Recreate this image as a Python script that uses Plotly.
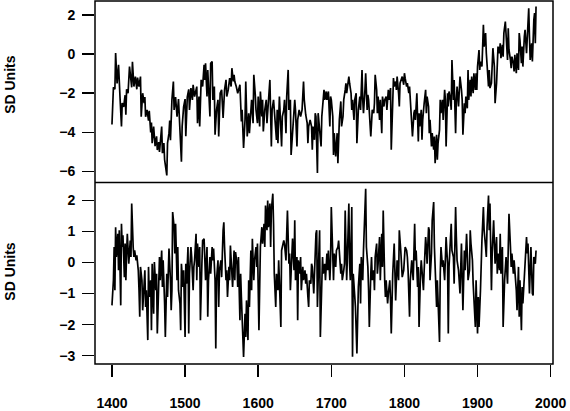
import plotly.graph_objects as go

years_top = [1400,1402,1404,1405,1407,1409,1411,1413,1414,1416,1418,1419,1420,1422,1424,1425,1427,1428,1429,1430,
1432,1434,1435,1437,1439,1440,1442,1444,1445,1446,1448,1450,1451,1453,1454,1455,1457,1459,1461,1462,
1464,1465,1468,1469,1471,1472,1475,1476,1478,1479,1480,1482,1484,1485,1487,1489,1491,1493,1495,1496,
1498,1500,1501,1503,1505,1506,1508,1510,1511,1513,1516,1517,1519,1520,1522,1524,1526,1527,1528,1530,
1531,1534,1535,1537,1538,1540,1541,1543,1545,1546,1548,1550,1552,1554,1556,1557,1559,1561,1563,1564,
1566,1567,1568,1570,1572,1575,1577,1578,1580,1582,1583,1585,1586,1587,1588,1590,1591,1593,1594,1596,
1597,1599,1600,1602,1603,1605,1606,1607,1609,1611,1612,1614,1616,1618,1619,1621,1623,1625,1626,1627,
1629,1631,1632,1633,1635,1636,1638,1639,1641,1642,1644,1645,1647,1648,1650,1651,1653,1654,1656,1658,
1659,1660,1662,1663,1665,1667,1668,1669,1671,1673,1674,1675,1677,1678,1679,1681,1682,1684,1686,1687,
1689,1690,1691,1693,1694,1696,1698,1699,1700,1702,1703,1704,1706,1708,1709,1710,1711,1713,1714,1716,
1717,1719,1720,1721,1723,1724,1725,1727,1728,1729,1731,1732,1734,1735,1737,1739,1740,1742,1743,1744,
1746,1747,1749,1750,1751,1753,1754,1756,1758,1759,1760,1762,1763,1764,1766,1767,1769,1770,1772,1773,
1775,1776,1778,1779,1781,1782,1784,1785,1786,1788,1789,1790,1792,1793,1794,1796,1797,1799,1800,1801,
1803,1804,1806,1807,1809,1810,1811,1813,1814,1815,1817,1819,1820,1821,1823,1824,1825,1827,1829,1830,
1831,1833,1834,1835,1837,1838,1840,1841,1842,1844,1845,1846,1848,1849,1850,1852,1853,1855,1856,1857,
1859,1860,1861,1863,1864,1865,1867,1868,1870,1871,1872,1874,1875,1876,1878,1879,1880,1882,1883,1884,
1886,1887,1888,1890,1891,1892,1894,1895,1897,1898,1899,1900,1902,1903,1904,1906,1907,1908,1909,1911,
1912,1913,1915,1916,1917,1919,1920,1921,1923,1924,1926,1927,1928,1930,1931,1932,1934,1935,1936,1938,
1939,1941,1942,1943,1945,1946,1947,1949,1950,1951,1953,1954,1956,1957,1958,1960,1961,1962,1964,1965,
1967,1968,1970,1971,1972,1974,1975,1977,1978,1979,1980]

sd_top = [-3.6,-1.7,-1.8,0.05,-1.5,-0.55,-2.2,-3.7,-2.5,-2.7,-2.1,-3.1,-1.8,-2.0,-0.64,-1.15,-1.7,-0.4,-0.9,-1.66,
-1.15,-1.8,-1.2,-1.66,-1.15,-3.2,-2.0,-2.5,-2.2,-3.2,-2.85,-3.4,-2.9,-4.0,-3.5,-4.55,-3.7,-4.7,-4.2,-4.9,
-4.5,-5.0,-3.7,-5.06,-4.55,-5.4,-6.2,-4.55,-4.04,-3.4,-4.4,-2.34,-1.4,-2.85,-2.2,-3.2,-2.3,-4.4,-5.5,-3.7,
-2.7,-2.3,-4.2,-2.2,-1.8,-2.85,-1.74,-2.34,-1.57,-2.17,-1.66,-3.53,-2.17,-3.70,-1.32,-1.66,-0.55,-1.32,-0.47,-2.17,
-0.81,-3.19,-0.47,-0.38,-2.34,-1.66,-4.12,-2.85,-2.34,-4.21,-2.0,-1.83,-3.27,-1.83,-1.32,-2.17,-1.83,-1.23,-1.66,-0.72,
-1.40,-1.06,-1.40,-1.66,-2.0,-1.57,-3.44,-2.85,-4.80,-3.36,-1.40,-4.21,-3.70,-3.02,-4.04,-2.68,-2.34,-3.53,-1.06,-2.08,
-2.85,-3.53,-2.17,-3.70,-1.91,-3.19,-2.34,-3.95,-2.85,-2.34,-3.53,-2.42,-1.32,-4.72,-2.85,-2.34,-3.19,-4.38,-2.85,-4.55,
-2.17,-3.87,-4.72,-3.19,-2.85,-2.34,-4.04,-2.17,-0.81,-2.85,-2.34,-5.15,-4.04,-3.19,-2.34,-2.85,-4.72,-3.36,-2.85,-3.19,
-3.02,-2.85,-1.40,-2.34,-3.10,-3.53,-4.55,-3.70,-3.36,-3.70,-4.89,-3.70,-4.38,-3.02,-3.19,-6.08,-3.02,-3.87,-4.72,-3.19,
-2.17,-1.83,-2.34,-1.91,-2.34,-1.91,-3.70,-2.17,-2.34,-3.19,-5.15,-4.04,-5.23,-4.04,-5.57,-4.04,-3.36,-2.42,-3.70,-3.19,
-2.34,-1.83,-1.49,-2.0,-1.57,-1.15,-1.49,-2.0,-2.85,-2.34,-3.36,-2.34,-2.0,-4.55,-2.85,-2.17,-2.85,-0.81,-2.34,-3.02,
-1.83,-0.98,-2.85,-2.08,-2.34,-3.36,-4.21,-2.85,-3.02,-2.51,-1.06,-1.83,-3.02,-2.17,-3.36,-2.34,-4.04,-2.17,-2.68,-2.34,
-2.17,-2.85,-1.83,-2.34,-1.74,-4.89,-2.34,-1.23,-1.66,-1.40,-1.83,-1.15,-2.0,-2.68,-1.49,-1.32,-1.15,-1.57,-0.98,-1.23,
-1.66,-1.49,-2.0,-1.66,-2.85,-3.19,-4.21,-3.02,-2.85,-3.36,-2.0,-4.47,-3.02,-3.70,-2.85,-4.38,-3.36,-2.51,-1.83,-3.02,
-2.17,-2.68,-4.04,-3.36,-4.72,-4.04,-4.89,-4.21,-5.57,-4.12,-5.40,-4.55,-3.87,-2.34,-3.02,-2.34,-3.36,-1.83,-2.34,-4.72,
-2.0,-2.68,-1.91,-2.34,-2.85,-0.30,-2.34,-1.32,-4.04,-2.34,-1.66,-2.68,-1.32,-1.15,-1.83,-2.34,-4.12,-2.51,-3.02,-2.17,
-2.77,-0.81,-2.34,-1.32,-2.17,-1.15,-2.0,-0.98,-1.83,-0.98,-1.83,-0.64,0.21,-0.81,-0.38,-0.64,0.38,1.49,0.38,1.07,
0.04,-0.64,-1.66,-0.81,-1.74,-1.49,-0.30,0.30,-0.64,-2.51,-1.49,-0.30,0.38,0.04,0.55,-0.21,0.47,-0.13,1.07,1.66,
0.72,-0.30,1.32,0.21,-0.30,-0.72,-0.13,-0.47,-0.89,-0.04,-0.98,0.04,-0.81,1.07,0.72,-0.47,0.38,-0.64,0.89,1.24,
0.04,0.72,2.34,0.89,-0.30,0.55,-0.38,1.75,2.09,0.55,2.43]

years_bottom = [1400,1402,1403,1404,1405,1406,1408,1409,1410,1411,1412,1413,1414,1415,1417,1418,1419,1420,1421,1423,
1424,1425,1426,1427,1429,1430,1431,1433,1434,1436,1437,1438,1439,1441,1442,1443,1445,1446,1447,1449,
1450,1451,1453,1454,1455,1457,1458,1460,1461,1462,1464,1465,1466,1468,1469,1470,1472,1473,1475,1476,
1477,1478,1480,1481,1482,1483,1485,1486,1487,1489,1490,1491,1493,1494,1495,1497,1498,1500,1501,1502,
1504,1505,1506,1508,1509,1511,1512,1513,1515,1516,1517,1519,1520,1521,1523,1524,1526,1527,1528,1530,
1531,1532,1534,1535,1537,1538,1539,1541,1542,1543,1545,1546,1547,1549,1550,1552,1553,1554,1556,1557,
1558,1560,1561,1562,1564,1565,1567,1568,1569,1571,1572,1573,1575,1576,1577,1579,1580,1582,1583,1584,
1586,1587,1588,1590,1591,1592,1594,1595,1597,1598,1599,1601,1602,1603,1605,1606,1608,1609,1610,1612,
1613,1614,1616,1617,1618,1620,1621,1622,1624,1625,1627,1628,1629,1631,1632,1633,1635,1636,1638,1639,
1640,1642,1643,1644,1646,1647,1649,1650,1651,1653,1654,1655,1657,1658,1659,1661,1662,1664,1665,1666,
1668,1669,1670,1672,1673,1674,1676,1677,1679,1680,1681,1683,1684,1685,1687,1688,1689,1691,1692,1694,
1695,1696,1698,1699,1700,1702,1703,1704,1706,1707,1709,1710,1711,1713,1714,1715,1717,1718,1719,1721,
1722,1724,1725,1726,1728,1729,1730,1732,1733,1735,1736,1737,1739,1740,1741,1743,1744,1745,1747,1748,
1750,1751,1752,1754,1755,1756,1758,1759,1760,1762,1763,1764,1766,1767,1769,1770,1771,1773,1774,1775,
1777,1778,1780,1781,1782,1784,1785,1786,1788,1789,1790,1792,1793,1795,1796,1797,1799,1800,1801,1803,
1804,1805,1807,1808,1810,1811,1812,1814,1815,1816,1818,1819,1820,1822,1823,1825,1826,1827,1829,1830,
1831,1833,1834,1835,1837,1838,1840,1841,1842,1844,1845,1846,1848,1849,1850,1852,1853,1855,1856,1857,
1859,1860,1861,1863,1864,1865,1867,1868,1870,1871,1872,1874,1875,1876,1878,1879,1880,1881,1882,1883,
1885,1886,1887,1889,1890,1891,1893,1894,1896,1897,1898,1900,1901,1902,1904,1905,1906,1908,1909,1911,
1912,1913,1915,1916,1917,1919,1920,1922,1923,1924,1926,1927,1928,1930,1931,1932,1934,1935,1937,1938,
1939,1941,1942,1943,1945,1946,1947,1949,1950,1952,1953,1954,1956,1957,1958,1960,1961,1962,1964,1965,
1967,1968,1969,1971,1972,1973,1975,1976,1977,1979,1980]

sd_bottom = [-1.38,-0.57,0.50,-0.89,1.14,0.18,0.93,-0.25,1.04,-0.36,-1.38,1.25,0.50,0.88,-0.47,0.61,-0.57,0.29,0.93,-0.04,
0.50,0.71,0.18,1.90,0.50,0.18,0.39,0.07,0.23,-0.25,-0.89,-1.75,-0.14,-0.57,-1.54,-1.11,-0.25,-1.43,-0.89,-2.50,
-0.14,-1.11,-0.57,-2.18,-0.04,-1.65,0.02,-0.89,-0.36,-2.29,-0.57,0.18,-0.57,0.39,-0.79,0.07,-1.32,-2.40,-0.36,-1.11,
-0.36,0.45,-0.57,-1.54,-0.89,1.63,1.14,0.29,1.25,-0.57,0.50,-0.89,-1.32,-2.18,-0.04,-0.79,-0.25,-2.40,-0.04,-0.68,
0.50,-2.29,-0.36,0.50,0.18,-0.89,-0.14,0.07,0.93,-0.57,0.61,-0.14,0.50,-1.86,-0.04,0.71,0.77,-0.04,-0.57,0.50,
-1.75,-0.57,0.18,-0.36,0.50,0.07,0.45,-0.57,-2.77,-0.57,0.07,-1.43,-0.25,0.07,-0.47,1.04,1.30,0.50,-0.57,-0.25,
-1.11,-0.14,-0.57,0.55,-0.14,-0.79,0.39,-0.57,0.34,-0.04,-0.79,0.18,-1.86,-0.36,-1.11,-2.61,-3.04,-1.65,-2.40,-1.22,
-2.50,-0.57,-1.43,0.39,-0.89,0.77,-0.57,0.07,0.50,-0.14,0.61,-2.18,0.07,0.50,1.14,0.61,1.25,0.50,1.84,1.04,
2.00,1.14,1.90,0.50,1.68,2.22,1.25,-0.36,-1.43,-0.36,-0.89,0.07,-0.57,-2.08,0.39,0.50,0.71,0.60,0.07,0.93,
1.68,-0.04,0.29,-0.89,0.61,0.77,-0.25,1.36,-0.57,0.18,-1.86,0.07,-0.36,0.18,-0.89,-0.14,-0.57,-0.25,-0.68,-0.36,
-1.11,-1.43,-0.57,-0.68,-0.04,-0.14,-1.00,-0.25,0.93,1.04,-1.43,0.29,1.04,-2.40,-0.14,0.18,-0.36,-0.04,-0.57,0.29,
-0.25,0.39,-0.57,0.07,1.79,0.50,-0.57,0.29,-0.14,0.39,0.50,0.71,0.29,-0.36,-0.04,-0.57,-0.25,-0.04,1.68,-0.57,
0.18,1.90,-0.04,-0.57,1.79,-3.04,-0.36,-1.11,-1.43,-2.93,-1.00,-0.79,-0.04,-1.32,0.18,-0.57,0.39,1.14,2.38,0.50,
-0.14,-0.89,-2.08,-0.36,0.18,-0.57,-0.25,-0.89,0.18,0.61,-0.36,-0.04,0.82,-0.57,0.93,-0.14,1.68,-0.57,-1.11,-0.57,
-1.32,-1.00,-0.57,-1.22,-2.29,-0.36,0.29,0.61,-1.22,-0.14,0.07,-0.57,1.04,0.39,-0.14,-0.47,-0.25,0.07,0.50,0.39,
0.18,-0.25,-1.75,-0.57,0.07,-0.25,-0.57,1.25,0.07,0.39,-0.79,-0.14,-2.08,-0.36,0.07,-0.57,-0.89,-0.25,0.82,0.50,
-0.04,1.14,1.04,-0.57,0.29,1.36,1.95,0.50,-0.04,-1.43,-0.57,-1.22,-2.56,-0.36,0.50,-0.14,0.07,-0.57,0.39,0.82,
-0.04,-2.29,-0.14,0.93,1.25,0.39,0.18,-0.68,1.79,0.82,0.07,-0.25,-0.79,-1.00,0.61,-0.14,-1.54,-0.57,0.39,-0.25,
0.93,0.29,-0.57,-0.25,1.04,0.61,0.07,-0.68,-1.54,-2.08,-0.57,-2.29,-1.11,-2.08,-0.89,0.18,0.71,1.79,1.04,0.50,
0.18,1.14,2.16,1.04,1.90,-0.89,0.29,1.36,0.50,-0.04,0.82,-0.36,0.29,-0.25,0.93,-0.36,0.50,-2.08,-0.57,-0.04,
0.18,-0.68,0.29,1.57,0.50,-0.14,0.29,-0.36,0.07,-0.57,-0.89,-1.54,-0.14,-1.75,-0.57,-2.18,-0.79,-1.32,-0.57,-0.04,
0.82,0.29,0.61,-1.00,0.18,0.50,-1.00,-1.06,0.18,-0.04,0.39]

x_ticks = [1400, 1500, 1600, 1700, 1800, 1900, 2000]
top_ticks = [2, 0, -2, -4, -6]
bottom_ticks = [2, 1, 0, -1, -2, -3]
y_title = "SD Units"

font_family = "Liberation Sans, Arial, Helvetica, sans-serif"

fig = go.Figure()
fig.add_trace(go.Scatter(x=years_top, y=sd_top, mode="lines",
                         line=dict(color="black", width=1.7), xaxis="x", yaxis="y", showlegend=False))
fig.add_trace(go.Scatter(x=years_bottom, y=sd_bottom, mode="lines",
                         line=dict(color="black", width=1.7), xaxis="x2", yaxis="y2", showlegend=False))

xrange = [1376.8, 2003.2]
noline = dict(showline=False, showgrid=False, zeroline=False)
tickfont = dict(family=font_family, size=14, weight="bold", color="black")

fig.update_layout(
    width=570, height=411,
    margin=dict(l=95, r=17, t=1, b=46.5),
    paper_bgcolor="white", plot_bgcolor="white",
    font=dict(family=font_family, size=14, color="black"),
    xaxis=dict(domain=[0, 1], anchor="y", range=xrange, showticklabels=False,
               ticks="", **noline),
    yaxis=dict(domain=[0.5, 1], anchor="x", range=[-6.56, 2.71],
               tickvals=top_ticks, ticktext=[str(t).replace("-", "\u2212") for t in top_ticks],
               ticks="outside", ticklen=12, tickwidth=1.5, tickcolor="black",
               ticklabelstandoff=4, tickfont=tickfont, **noline),
    xaxis2=dict(domain=[0, 1], anchor="y2", range=xrange,
                tickvals=x_ticks, ticks="outside", ticklen=12, tickwidth=1.5, tickcolor="black",
                ticklabelstandoff=14, tickfont=tickfont, **noline),
    yaxis2=dict(domain=[0, 0.5], anchor="x2", range=[-3.27, 2.58],
                tickvals=bottom_ticks, ticktext=[str(t).replace("-", "\u2212") for t in bottom_ticks],
                ticks="outside", ticklen=12, tickwidth=1.5, tickcolor="black",
                ticklabelstandoff=4, tickfont=tickfont, **noline),
    shapes=[
        dict(type="rect", xref="paper", yref="paper", x0=0, x1=1, y0=0, y1=1,
             line=dict(color="black", width=1.5), fillcolor="rgba(0,0,0,0)", layer="above"),
        dict(type="line", xref="paper", yref="paper", x0=0, x1=1, y0=0.5, y1=0.5,
             line=dict(color="black", width=1.5), layer="above"),
    ],
    annotations=[
        dict(text=y_title, xref="paper", yref="paper", x=-0.1856, y=0.7717,
             xanchor="center", yanchor="middle", textangle=-90, showarrow=False,
             font=dict(family=font_family, size=14, weight="bold")),
        dict(text=y_title, xref="paper", yref="paper", x=-0.1856, y=0.257,
             xanchor="center", yanchor="middle", textangle=-90, showarrow=False,
             font=dict(family=font_family, size=14, weight="bold")),
    ],
)

fig.write_html("out.html", config={"displayModeBar": False, "staticPlot": True})

# remove the default page margin so the figure sits at the window's top-left corner
with open("out.html", "r", encoding="utf-8") as f:
    html = f.read()
html = html.replace("<head>", "<head><style>html,body{margin:0;padding:0;}</style>", 1)
with open("out.html", "w", encoding="utf-8") as f:
    f.write(html)
